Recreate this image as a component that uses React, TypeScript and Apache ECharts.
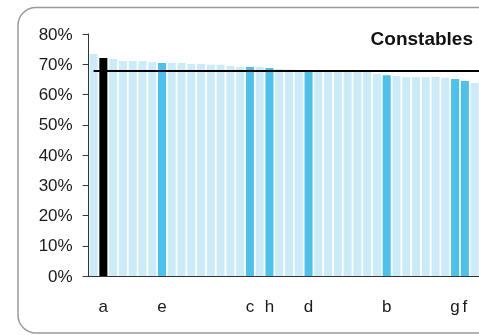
import React, { useEffect, useRef } from "react";
import * as echarts from "echarts";

const labels: string[] = [
  "", "a", "", "", "", "", "", "e", "", "", "",
  "", "", "", "", "", "c", "", "h", "", "",
  "", "d", "", "", "", "", "", "", "", "b",
  "", "", "", "", "", "", "g", "f", "", "",
];
const values: number[] = [
  73.4, 72.1, 71.7, 71.1, 71.1, 71.1, 70.7, 70.4, 70.4, 70.4, 70.1,
  70.1, 69.8, 69.8, 69.4, 69.1, 69.1, 69.1, 68.8, 68.4, 68.3,
  68.2, 68.1, 67.9, 67.8, 67.8, 67.8, 67.8, 67.7, 66.8, 66.4,
  66.1, 65.8, 65.8, 65.8, 65.8, 65.5, 65.1, 64.5, 63.8, 63.5,
];
const average = 68;
const yTicks = [0, 10, 20, 30, 40, 50, 60, 70, 80];
const title = "Constables";

const LIGHT = "#ccebf8";
const BLUE = "#4bc1eb";
const BLACK = "#000000";
const FONT = "Liberation Sans, Arial, sans-serif";

export default function App() {
  const ref = useRef<HTMLDivElement>(null);
  useEffect(() => {
    if (!ref.current) return;
    const chart = echarts.init(ref.current, null, { renderer: "svg" });
    const cats = labels.map((_, i) => String(i));
    chart.setOption({
      animation: false,
      textStyle: { fontFamily: FONT },
      graphic: [
        {
          type: "rect",
          shape: { x: 18, y: 7.5, width: 520, height: 325.5, r: 18 },
          style: { fill: "none", stroke: "#9a9a9a", lineWidth: 1.5 },
          silent: true,
          z: -1,
        },
        {
          type: "text",
          x: 473,
          y: 38.5,
          style: {
            text: title,
            fontSize: 19,
            fontWeight: "bold",
            fill: "#111",
            fontFamily: FONT,
            align: "right",
            verticalAlign: "middle",
          },
        },
      ],
      grid: { left: 88.7, top: 34, width: 400.6, bottom: 59, containLabel: false },
      xAxis: {
        type: "category",
        data: cats,
        axisLine: { show: true, lineStyle: { color: "#333", width: 1 } },
        axisTick: { show: false },
        axisLabel: {
          interval: 0,
          margin: 22,
          fontSize: 17,
          color: "#1a1a1a",
          formatter: (v: string) => labels[Number(v)],
        },
      },
      yAxis: {
        type: "value",
        min: yTicks[0],
        max: yTicks[yTicks.length - 1],
        interval: 10,
        splitLine: { show: false },
        axisLine: { show: true, lineStyle: { color: "#333", width: 1 } },
        axisTick: { show: true, length: 6, lineStyle: { color: "#333" } },
        axisLabel: {
          margin: 16,
          fontSize: 17,
          color: "#1a1a1a",
          formatter: (v: number) => v + "%",
        },
      },
      series: [
        {
          type: "bar",
          barCategoryGap: "18%",
          data: values.map((v, i) => ({
            value: v,
            itemStyle: {
              color: labels[i] === "a" ? BLACK : labels[i] ? BLUE : LIGHT,
            },
          })),
          markLine: {
            silent: true,
            symbol: "none",
            label: { show: false },
            lineStyle: { color: "#000", width: 2, type: "solid" },
            data: [
              [
                { coord: [cats[0], average] },
                { coord: [cats[cats.length - 1], average] },
              ],
            ],
          },
        },
      ],
    });
    return () => chart.dispose();
  }, []);
  return (
    <div
      style={{
        position: "fixed",
        left: 0,
        top: 0,
        width: 479,
        height: 335,
        overflow: "hidden",
      }}
    >
      <div ref={ref} style={{ width: 560, height: 335 }} />
    </div>
  );
}
